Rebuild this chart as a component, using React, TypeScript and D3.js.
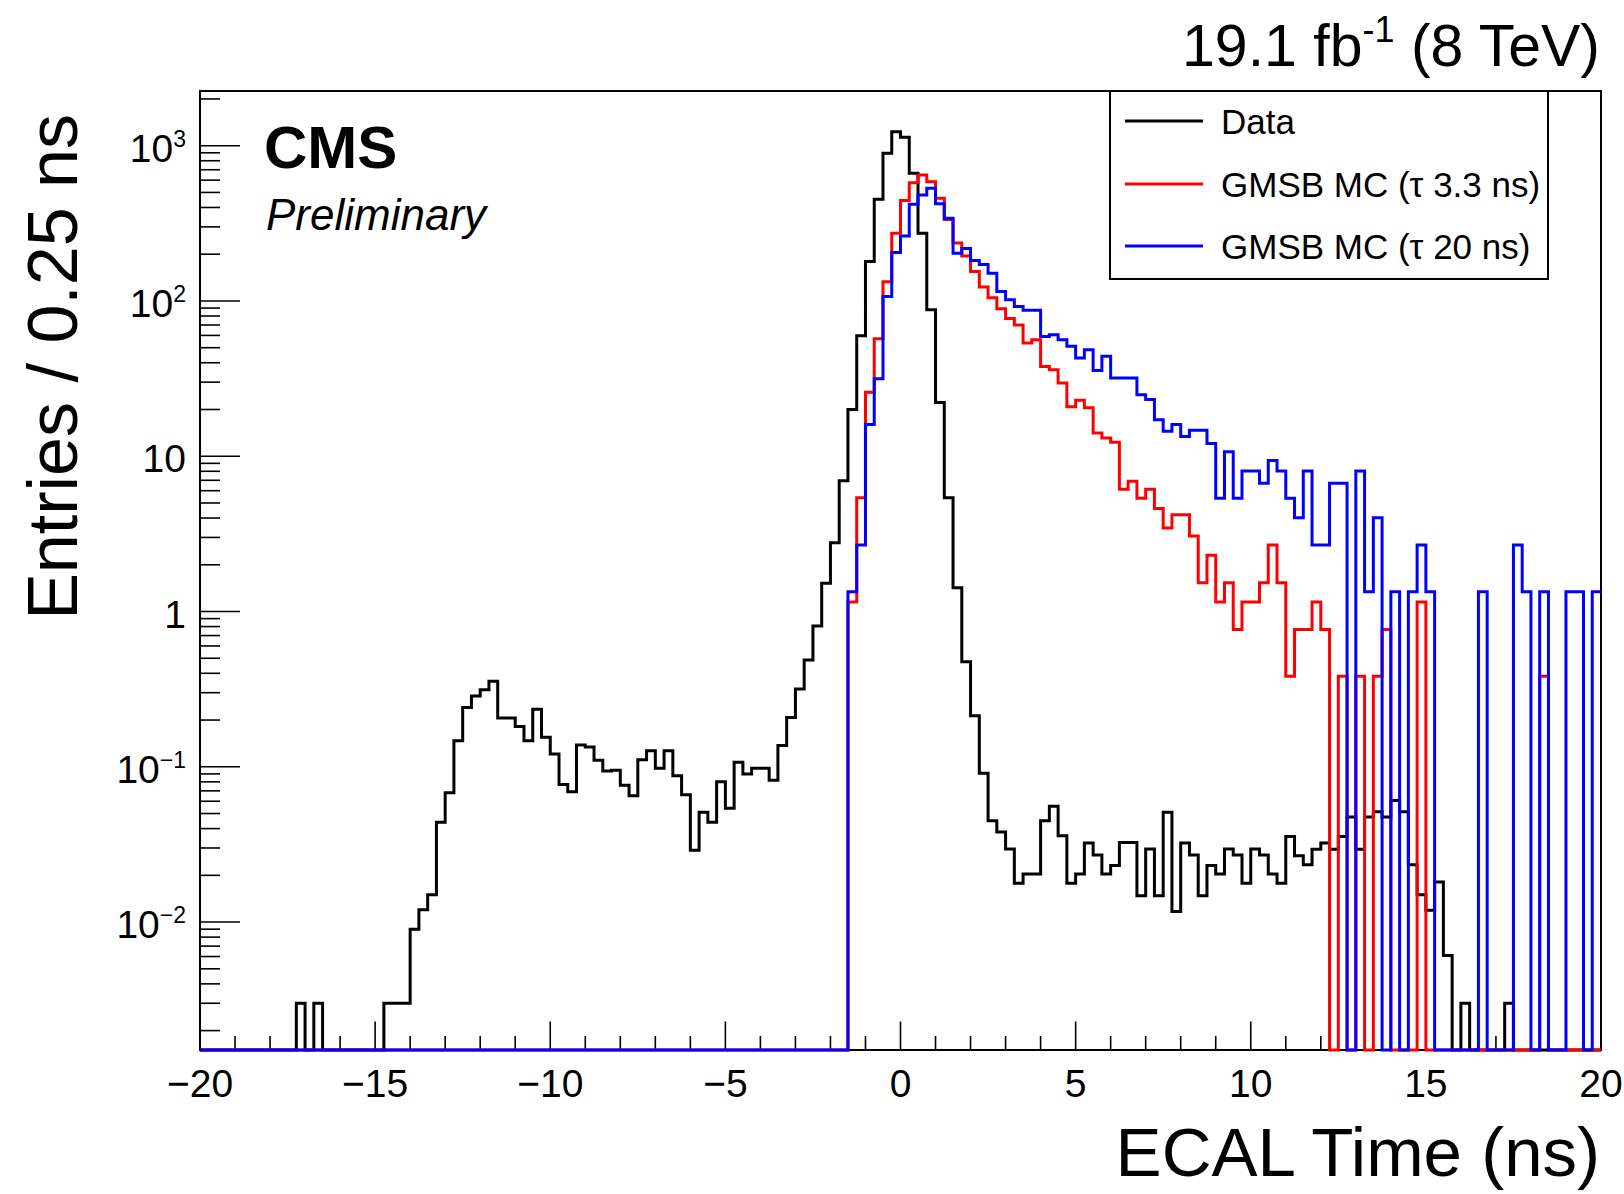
import React from "react";
import * as d3 from "d3";

// ---- data: 160 bins of 0.25 ns from -20 to 20 ----
const binLow = -20;
const binWidth = 0.25;

const dataValues = [
  0, 0, 0, 0, 0, 0, 0, 0, 0, 0,
  0, 0.003, 0, 0.003, 0, 0, 0, 0, 0, 0,
  0, 0.003, 0.003, 0.003, 0.009, 0.012, 0.015, 0.044, 0.068, 0.147,
  0.241, 0.286, 0.313, 0.356, 0.206, 0.206, 0.182, 0.147, 0.235, 0.155,
  0.121, 0.077, 0.069, 0.138, 0.134, 0.11, 0.094, 0.095, 0.076, 0.065,
  0.111, 0.127, 0.098, 0.127, 0.0875, 0.066, 0.029, 0.051, 0.044, 0.08,
  0.054, 0.107, 0.09, 0.098, 0.098, 0.082, 0.137, 0.208, 0.317, 0.488,
  0.807, 1.52, 2.77, 6.95, 20, 59.7, 179.5, 452, 893, 1230,
  1132, 664, 273, 87.8, 22.2, 5.4, 1.42, 0.475, 0.213, 0.091,
  0.045, 0.038, 0.0296, 0.0178, 0.0204, 0.0204, 0.045, 0.0556, 0.036, 0.0178,
  0.0204, 0.0323, 0.027, 0.0204, 0.0231, 0.0326, 0.0326, 0.0148, 0.0296, 0.0148,
  0.0509, 0.0117, 0.0323, 0.027, 0.0148, 0.0231, 0.0204, 0.0296, 0.027, 0.0178,
  0.0296, 0.027, 0.0204, 0.0178, 0.0356, 0.0267, 0.0234, 0.0294, 0.0323, 0.0294,
  0.0356, 0.0475, 0.0294, 0.0475, 0.0513, 0.0475, 0.0607, 0.0513, 0.0234, 0.015,
  0.0119, 0.0181, 0.0061, 0, 0.003, 0, 0, 0, 0, 0.003,
  0, 0, 0, 0, 0, 0, 0, 0, 0, 0,
];

const mc33Values = [
  0, 0, 0, 0, 0, 0, 0, 0, 0, 0,
  0, 0, 0, 0, 0, 0, 0, 0, 0, 0,
  0, 0, 0, 0, 0, 0, 0, 0, 0, 0,
  0, 0, 0, 0, 0, 0, 0, 0, 0, 0,
  0, 0, 0, 0, 0, 0, 0, 0, 0, 0,
  0, 0, 0, 0, 0, 0, 0, 0, 0, 0,
  0, 0, 0, 0, 0, 0, 0, 0, 0, 0,
  0, 0, 0, 0, 1.15, 5.4, 25.8, 57, 133, 273,
  443, 578, 648, 586, 459, 335, 236, 195, 155, 123,
  105, 89, 77, 70, 53.6, 56.3, 37.9, 36.1, 29.6, 20.8,
  22.9, 20.5, 14.1, 13.1, 12.3, 6.13, 6.9, 5.36, 6.13, 4.6,
  3.45, 4.2, 4.2, 3.06, 1.53, 2.3, 1.15, 1.53, 0.766, 1.15,
  1.15, 1.53, 2.68, 1.53, 0.383, 0.766, 0.766, 1.15, 0.766, 0,
  0.383, 0, 0.383, 0, 0.383, 0.766, 0, 0, 0, 1.15,
  0, 0, 0, 0, 0, 0, 0, 0, 0, 0,
  0, 0, 0, 0.383, 0, 0, 0, 0, 0, 0,
];

const mc20Values = [
  0, 0, 0, 0, 0, 0, 0, 0, 0, 0,
  0, 0, 0, 0, 0, 0, 0, 0, 0, 0,
  0, 0, 0, 0, 0, 0, 0, 0, 0, 0,
  0, 0, 0, 0, 0, 0, 0, 0, 0, 0,
  0, 0, 0, 0, 0, 0, 0, 0, 0, 0,
  0, 0, 0, 0, 0, 0, 0, 0, 0, 0,
  0, 0, 0, 0, 0, 0, 0, 0, 0, 0,
  0, 0, 0, 0, 1.34, 2.68, 16, 31.5, 107, 205,
  262, 420, 482, 532, 422, 341, 203, 218, 182, 172,
  151, 115, 102, 92, 87, 87, 59, 60.6, 56.3, 51,
  42.9, 48.5, 35.7, 44, 31.9, 31.9, 31.9, 24.9, 23.2, 17.2,
  14.5, 16, 13.4, 14.7, 14.7, 12.1, 5.36, 10.7, 5.36, 8.04,
  8.04, 6.7, 9.38, 8.04, 5.36, 4.02, 8.04, 2.68, 2.68, 6.7,
  6.7, 0, 8.04, 1.34, 4.02, 0, 1.34, 0, 1.34, 2.68,
  1.34, 0, 0, 0, 0, 0, 1.34, 0, 0, 0,
  2.68, 1.34, 0, 1.34, 0, 0, 1.34, 1.34, 0, 1.34,
];

const xMajorTicks = [-20, -15, -10, -5, 0, 5, 10, 15, 20];
const xTickLabels = ["\u221220", "\u221215", "\u221210", "\u22125", "0", "5", "10", "15", "20"];
const yMajorExps = [-2, -1, 0, 1, 2, 3];
const yTickLabels: [string, string][] = [
  ["10", "\u22122"],
  ["10", "\u22121"],
  ["1", ""],
  ["10", ""],
  ["10", "2"],
  ["10", "3"],
];

const legendLabels = ["Data", "GMSB MC (\u03c4 3.3 ns)", "GMSB MC (\u03c4 20 ns)"];

// ---- layout ----
const W = 1624;
const H = 1194;
const left = 200;
const right = 1601;
const top = 91;
const bottom = 1050;
const yMin = 0.0015;
const yMax = 2250;
const FONT = "'Liberation Sans', Arial, Helvetica, sans-serif";

const x = d3.scaleLinear().domain([-20, 20]).range([left, right]);
const y = d3.scaleLog().domain([yMin, yMax]).range([bottom, top]);

function histPath(values: number[]): string {
  const pts: [number, number][] = [];
  const yc = (v: number) => (v <= yMin ? bottom : y(v));
  pts.push([x(binLow), bottom]);
  values.forEach((v, i) => {
    pts.push([x(binLow + i * binWidth), yc(v)]);
  });
  const last = values[values.length - 1];
  pts.push([x(binLow + values.length * binWidth), yc(last)]);
  const line = d3.line<[number, number]>().x((d) => d[0]).y((d) => d[1]).curve(d3.curveStepAfter);
  return line(pts) as string;
}

export default function App() {
  const yMinor: number[] = [];
  for (let e = -3; e <= 3; e++) {
    for (let m = 2; m <= 9; m++) {
      const v = m * Math.pow(10, e);
      if (v >= yMin && v <= yMax) yMinor.push(v);
    }
  }
  const xMinor: number[] = [];
  for (let t = -20; t <= 20; t++) if (t % 5 !== 0) xMinor.push(t);

  const series = [
    { values: dataValues, color: "#000000" },
    { values: mc33Values, color: "#ff0000" },
    { values: mc20Values, color: "#0000ff" },
  ];
  const lw = 3;
  const legY = [121, 184, 246];

  return (
    <svg
      width={W}
      height={H}
      style={{ position: "absolute", left: 0, top: 0, background: "#fff" }}
      fontFamily={FONT}
    >
      <rect x={0} y={0} width={W} height={H} fill="#fff" />
      {/* frame */}
      <rect x={left} y={top} width={right - left} height={bottom - top} fill="none" stroke="#000" strokeWidth={2} />
      {/* y ticks */}
      {yMajorExps.map((e) => (
        <line key={"ym" + e} x1={left} x2={left + 40} y1={y(Math.pow(10, e))} y2={y(Math.pow(10, e))} stroke="#000" strokeWidth={1.6} />
      ))}
      {yMinor.map((v, i) => (
        <line key={"yn" + i} x1={left} x2={left + 20} y1={y(v)} y2={y(v)} stroke="#000" strokeWidth={1.6} />
      ))}
      {/* x ticks */}
      {xMajorTicks.map((t) => (
        <line key={"xm" + t} x1={x(t)} x2={x(t)} y1={bottom} y2={bottom - 28.5} stroke="#000" strokeWidth={1.6} />
      ))}
      {xMinor.map((t) => (
        <line key={"xn" + t} x1={x(t)} x2={x(t)} y1={bottom} y2={bottom - 14} stroke="#000" strokeWidth={1.6} />
      ))}
      {/* x tick labels */}
      {xMajorTicks.map((t, i) => (
        <text key={"xl" + t} x={x(t)} y={1097} fontSize={39} textAnchor="middle" fill="#000">
          {xTickLabels[i]}
        </text>
      ))}
      {/* y tick labels */}
      {yMajorExps.map((e, i) => (
        <text key={"yl" + e} x={186} y={y(Math.pow(10, e)) + 16} fontSize={39} textAnchor="end" fill="#000">
          {yTickLabels[i][0]}
          {yTickLabels[i][1] !== "" && (
            <tspan dy={-15} fontSize={23}>
              {yTickLabels[i][1]}
            </tspan>
          )}
        </text>
      ))}
      {/* histograms */}
      {series.map((s, i) => (
        <path key={"h" + i} d={histPath(s.values)} fill="none" stroke={s.color} strokeWidth={lw} strokeLinejoin="miter" />
      ))}
      {/* axis titles */}
      <text x={1600} y={1176} fontSize={69} textAnchor="end" fill="#000">
        ECAL Time (ns)
      </text>
      <text transform="translate(77,114) rotate(-90)" fontSize={70} textAnchor="end" fill="#000">
        Entries / 0.25 ns
      </text>
      {/* lumi label */}
      <text x={1600} y={66} fontSize={59} textAnchor="end" fill="#000">
        19.1 fb
        <tspan dy={-24} fontSize={36}>-1</tspan>
        <tspan dy={24}> (8 TeV)</tspan>
      </text>
      {/* CMS */}
      <text x={264} y={168} fontSize={60} fontWeight="bold" fill="#000">
        CMS
      </text>
      <text x={266} y={230} fontSize={44} fontStyle="italic" fill="#000">
        Preliminary
      </text>
      {/* legend */}
      <rect x={1110} y={91} width={438} height={188} fill="#fff" stroke="#000" strokeWidth={2} />
      {series.map((s, i) => (
        <g key={"lg" + i}>
          <line x1={1125} x2={1203} y1={legY[i]} y2={legY[i]} stroke={s.color} strokeWidth={3} />
          <text x={1221} y={legY[i] + 12.5} fontSize={35} fill="#000">
            {legendLabels[i]}
          </text>
        </g>
      ))}
    </svg>
  );
}
